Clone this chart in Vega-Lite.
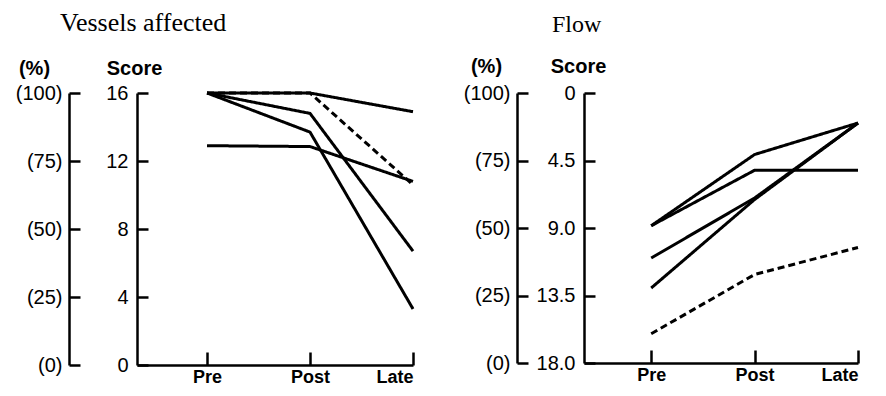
{
  "$schema": "https://vega.github.io/schema/vega-lite/v6.json",
  "padding": {"left": 15, "top": 10, "right": 0, "bottom": 0},
  "background": "white",
  "config": {
    "view": {"stroke": null},
    "axis": {
      "grid": false,
      "domainColor": "black",
      "domainWidth": 2.5,
      "tickColor": "black",
      "tickWidth": 2.5,
      "labelColor": "black",
      "labelFont": "Liberation Sans",
      "labelFontSize": 20,
      "titleFont": "Liberation Sans",
      "titleFontSize": 20,
      "titleFontWeight": "bold",
      "titleColor": "black"
    },
    "title": {"font": "Liberation Serif", "fontSize": 23, "fontWeight": "normal", "color": "black", "anchor": "start", "frame": "group"}
  },
  "datasets": {
    "vessels": [
      {"line": "V1", "style": "solid", "t": 1, "score": 16},
      {"line": "V1", "style": "solid", "t": 2, "score": 16},
      {"line": "V1", "style": "solid", "t": 3, "score": 14.9},
      {"line": "V2", "style": "dashed", "t": 1, "score": 16},
      {"line": "V2", "style": "dashed", "t": 2, "score": 16},
      {"line": "V2", "style": "dashed", "t": 3, "score": 10.6},
      {"line": "V3", "style": "solid", "t": 1, "score": 16},
      {"line": "V3", "style": "solid", "t": 2, "score": 14.8},
      {"line": "V3", "style": "solid", "t": 3, "score": 6.7},
      {"line": "V4", "style": "solid", "t": 1, "score": 16},
      {"line": "V4", "style": "solid", "t": 2, "score": 13.7},
      {"line": "V4", "style": "solid", "t": 3, "score": 3.3},
      {"line": "V5", "style": "solid", "t": 1, "score": 12.9},
      {"line": "V5", "style": "solid", "t": 2, "score": 12.85},
      {"line": "V5", "style": "solid", "t": 3, "score": 10.8}
    ],
    "flow": [
      {"line": "F1", "style": "solid", "t": 1, "score": 8.85},
      {"line": "F1", "style": "solid", "t": 2, "score": 4.1},
      {"line": "F1", "style": "solid", "t": 3, "score": 2.0},
      {"line": "F2", "style": "solid", "t": 1, "score": 8.85},
      {"line": "F2", "style": "solid", "t": 2, "score": 5.15},
      {"line": "F2", "style": "solid", "t": 3, "score": 5.15},
      {"line": "F3", "style": "solid", "t": 1, "score": 11.0},
      {"line": "F3", "style": "solid", "t": 2, "score": 7.0},
      {"line": "F3", "style": "solid", "t": 3, "score": 2.0},
      {"line": "F4", "style": "solid", "t": 1, "score": 13.0},
      {"line": "F4", "style": "solid", "t": 2, "score": 7.1},
      {"line": "F4", "style": "solid", "t": 3, "score": 2.0},
      {"line": "F5", "style": "dashed", "t": 1, "score": 16.05},
      {"line": "F5", "style": "dashed", "t": 2, "score": 12.1},
      {"line": "F5", "style": "dashed", "t": 3, "score": 10.3}
    ],
    "pct": [{"pct": 0}, {"pct": 100}]
  },
  "hconcat": [
    {
      "width": 276,
      "height": 272,
      "title": {"text": "Vessels affected", "dx": -77, "offset": 22, "fontSize": 26},
      "layer": [
        {
          "data": {"name": "vessels"},
          "mark": {"type": "line", "color": "black", "strokeWidth": 3},
          "encoding": {
            "x": {
              "field": "t", "type": "quantitative",
              "scale": {"domain": [0.32, 3], "nice": false, "zero": false},
              "axis": {
                "values": [1, 2, 3], "title": null, "tickSize": -13, "labelPadding": 16,
                "labelFontWeight": "bold", "labelFontSize": 18,
                "labelExpr": "datum.value == 1 ? 'Pre' : datum.value == 2 ? 'Post' : 'Late'"
              }
            },
            "y": {
              "field": "score", "type": "quantitative",
              "scale": {"domain": [0, 16], "nice": false},
              "axis": {
                "orient": "left", "values": [0, 4, 8, 12, 16], "tickSize": -11, "labelPadding": 20,
                "title": "Score", "titleAngle": 0, "titleX": -3, "titleY": -19,
                "titleAlign": "center", "titleBaseline": "alphabetic"
              }
            },
            "detail": {"field": "line"},
            "strokeDash": {
              "field": "style", "type": "nominal",
              "scale": {"domain": ["solid", "dashed"], "range": [[1, 0], [7, 4]]},
              "legend": null
            }
          }
        },
        {
          "data": {"name": "pct"},
          "mark": {"type": "point", "opacity": 0},
          "encoding": {
            "y": {
              "field": "pct", "type": "quantitative",
              "scale": {"domain": [0, 100], "nice": false},
              "axis": {
                "orient": "left", "offset": 68, "values": [0, 25, 50, 75, 100], "tickSize": -11, "labelPadding": 18,
                "labelExpr": "'(' + datum.value + ')'",
                "title": "(%)", "titleAngle": 0, "titleX": -35, "titleY": -19,
                "titleAlign": "center", "titleBaseline": "alphabetic"
              }
            }
          }
        }
      ],
      "resolve": {"scale": {"y": "independent"}}
    },
    {
      "width": 274,
      "height": 270,
      "title": {"text": "Flow", "dx": -32, "dy": 3, "offset": 22, "fontSize": 24},
      "layer": [
        {
          "data": {"name": "flow"},
          "mark": {"type": "line", "color": "black", "strokeWidth": 3},
          "encoding": {
            "x": {
              "field": "t", "type": "quantitative",
              "scale": {"domain": [0.35, 3], "nice": false, "zero": false},
              "axis": {
                "values": [1, 2, 3], "title": null, "tickSize": -13, "labelPadding": 16,
                "labelFontWeight": "bold", "labelFontSize": 18,
                "labelExpr": "datum.value == 1 ? 'Pre' : datum.value == 2 ? 'Post' : 'Late'"
              }
            },
            "y": {
              "field": "score", "type": "quantitative",
              "scale": {"domain": [0, 18], "nice": false, "reverse": true},
              "axis": {
                "orient": "left", "values": [0, 4.5, 9, 13.5, 18], "tickSize": -11, "labelPadding": 20,
                "labelExpr": "datum.value == 0 ? '0' : format(datum.value, '.1f')",
                "title": "Score", "titleAngle": 0, "titleX": -6, "titleY": -21,
                "titleAlign": "center", "titleBaseline": "alphabetic"
              }
            },
            "detail": {"field": "line"},
            "strokeDash": {
              "field": "style", "type": "nominal",
              "scale": {"domain": ["solid", "dashed"], "range": [[1, 0], [9, 5]]},
              "legend": null
            }
          }
        },
        {
          "data": {"name": "pct"},
          "mark": {"type": "point", "opacity": 0},
          "encoding": {
            "y": {
              "field": "pct", "type": "quantitative",
              "scale": {"domain": [0, 100], "nice": false},
              "axis": {
                "orient": "left", "offset": 67, "values": [0, 25, 50, 75, 100], "tickSize": -11, "labelPadding": 18,
                "labelExpr": "'(' + datum.value + ')'",
                "title": "(%)", "titleAngle": 0, "titleX": -31, "titleY": -21,
                "titleAlign": "center", "titleBaseline": "alphabetic"
              }
            }
          }
        }
      ],
      "resolve": {"scale": {"y": "independent"}}
    }
  ],
  "spacing": 44
}
